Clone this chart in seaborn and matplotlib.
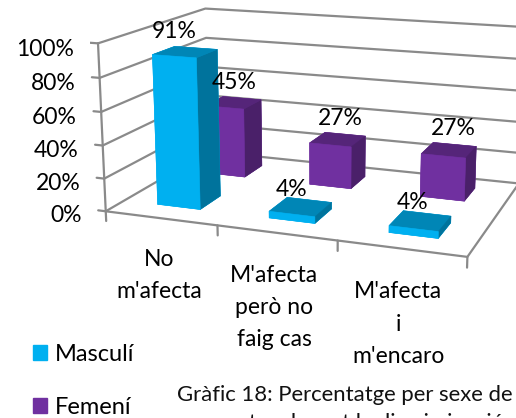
import matplotlib
matplotlib.use("Agg")
import matplotlib.pyplot as plt
from matplotlib.patches import Patch
from mpl_toolkits.mplot3d import proj3d
import seaborn as sns

sns.set_theme(style="white")
plt.rcParams['font.family'] = ['Lato', 'DejaVu Sans']

categories = ["No\nm'afecta", "M'afecta\nperò no\nfaig cas", "M'afecta\ni\nm'encaro"]
masculi = [91, 4, 4]
femeni = [45, 27, 27]
series_names = ["Masculí", "Femení"]
z_ticks = [0, 20, 40, 60, 80, 100]
caption = "Gràfic 18: Percentatge per sexe de\nrespostes davant la discriminació"

W, H = 516, 418
GREY = "#8a8a8a"
FS = 16.5
blue = sns.color_palette(["#00b0f0", "#0086b6", "#00739c"])
purple = sns.color_palette(["#7030a0", "#552579", "#4a2069"])

fig = plt.figure(figsize=(W / 100, H / 100), dpi=100)
side, cx, cy = 447.4, 314.0, 294.7
ax = fig.add_axes([(cx - side / 2) / W, (cy - side / 2) / H, side / W, side / H], projection='3d')
ax.set_xlim(0, 3)
ax.set_ylim(0, 1)
ax.set_zlim(0, 100)
ax.view_init(elev=13.906, azim=-69.66)
ax.set_proj_type('persp', focal_length=0.4868)
ax.set_box_aspect((1, 0.6434, 0.4616))
ax.set_xticks([])
ax.set_yticks([])
ax.set_zticks([])
ax.set_axis_off()
ax.computed_zorder = False
ax.patch.set_alpha(0)


def label(x, y, z, s, **kw):
    # flat text placed where the 3d point lands
    px, py, _ = proj3d.proj_transform(x, y, z, ax.get_proj())
    ax.text2D(px, py, s, transform=ax.transData, color='black', fontsize=FS, zorder=10, clip_on=False, **kw)


# walls and floor
for t in z_ticks:
    ax.plot([0, 0, 3], [0, 1, 1], [t, t, t], color=GREY, lw=1.6, zorder=1)
    ax.plot([-0.07, 0], [0, 0], [t, t], color=GREY, lw=1.6, zorder=1)
    label(-0.225, 0, t - 4.5, "%d%%" % t, ha='right', va='center')
ax.plot([0, 0], [0, 0], [0, 100], color=GREY, lw=1.6, zorder=1)
ax.plot([0, 3, 3], [0, 0, 1], [0, 0, 0], color=GREY, lw=1.6, zorder=1)
for i in range(4):
    ax.plot([i, i], [0, 0], [0, -6], color=GREY, lw=1.6, zorder=1)


def face_colors(c):
    # bar3d order: bottom, top, front, back, left, right
    return [c[0], c[1], c[0], c[0], c[0], c[2]]


# back row first, the front row sits on top of it
for i, v in enumerate(femeni):
    ax.bar3d(i + 0.29, 0.66, 0, 0.38, 0.2, v, color=face_colors(purple), edgecolor=face_colors(purple), linewidth=0.4,
             shade=False, zorder=3)
    label(i + 0.53, 0.72, v + 15, "%d%%" % v, ha='center', va='center')
for i, v in enumerate(masculi):
    ax.bar3d(i + 0.31, 0.16, 0, 0.39, 0.2, v, color=face_colors(blue), edgecolor=face_colors(blue), linewidth=0.4,
             shade=False, zorder=4)
    label(i + 0.48, 0.19, v + 13.5, "%d%%" % v, ha='center', va='center')

for i, lab in enumerate(categories):
    label(i + 0.48, 0, -19, lab, ha='center', va='top', linespacing=1.67)

handles = [Patch(color=blue[0], label=series_names[0]), Patch(color=purple[0], label=series_names[1])]
fig.legend(handles=handles, loc='lower left', bbox_to_anchor=(33 / W, 0), frameon=False, fontsize=17,
           handlelength=0.58, handleheight=0.58, handletextpad=0.36, labelspacing=1.37, borderpad=0, borderaxespad=0,
           labelcolor='black')
fig.text(345 / W, 1 - 385 / H, caption, ha='center', va='top', fontsize=15.9, linespacing=1.5, color='#111111')

fig.savefig("out.png", dpi=100)
